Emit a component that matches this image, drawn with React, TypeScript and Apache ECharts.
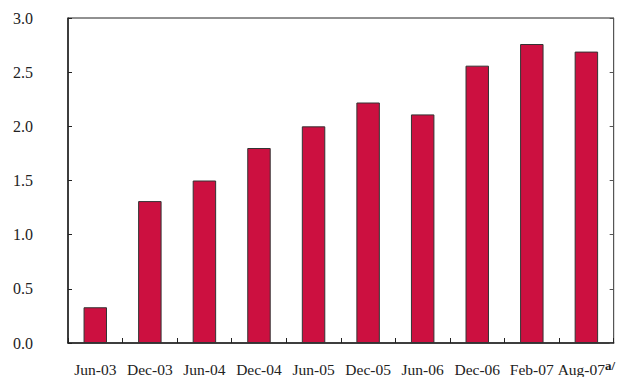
import React, { useEffect, useRef } from "react";
import * as echarts from "echarts";

const categories = ["Jun-03", "Dec-03", "Jun-04", "Dec-04", "Jun-05", "Dec-05", "Jun-06", "Dec-06", "Feb-07", "Aug-07"];
const values = [0.33, 1.31, 1.5, 1.8, 2.0, 2.22, 2.11, 2.56, 2.76, 2.69];
const yTicks = [0, 0.5, 1.0, 1.5, 2.0, 2.5, 3.0];
const footnoteCategory = "Aug-07";
const footnoteMark = "a/";

const FONT = "'Liberation Serif', 'Times New Roman', serif";

export default function App() {
  const ref = useRef<HTMLDivElement>(null);
  useEffect(() => {
    if (!ref.current) return;
    const chart = echarts.init(ref.current, undefined, { renderer: "svg" });
    chart.setOption({
      animation: false,
      backgroundColor: "#ffffff",
      grid: {
        left: 68,
        right: 2,
        top: 18,
        bottom: 30,
        show: true,
        borderColor: "#222",
        borderWidth: 1,
        backgroundColor: "transparent",
      },
      xAxis: {
        type: "category",
        data: categories,
        axisLine: { show: true, lineStyle: { color: "#222", width: 1.5 } },
        axisTick: { show: true, inside: true, length: 5, lineStyle: { color: "#222" } },
        axisLabel: {
          color: "#222",
          fontFamily: FONT,
          fontSize: 15.5,
          margin: 16,
          interval: 0,
          formatter: (v: string) => (v === footnoteCategory ? `{b|${v}}{sup|${footnoteMark}}` : `{b|${v}}`),
          rich: {
            b: { fontFamily: FONT, fontSize: 15.5, color: "#222", lineHeight: 18, verticalAlign: "bottom" },
            sup: { fontFamily: FONT, fontSize: 13, fontWeight: "bold", color: "#222", lineHeight: 18, verticalAlign: "top" },
          },
        },
      },
      yAxis: [
        {
          type: "value",
          min: 0,
          max: 3,
          interval: 0.5,
          axisLine: { show: true, lineStyle: { color: "#222", width: 1.5 } },
          axisTick: { show: true, inside: true, length: 4, lineStyle: { color: "#222" } },
          splitLine: { show: false },
          axisLabel: {
            color: "#222",
            fontFamily: FONT,
            fontSize: 16,
            margin: 35,
            align: "right",
            formatter: (v: number) => (yTicks.includes(v) ? v.toFixed(1) : ""),
          },
        },
        {
          type: "value",
          min: 0,
          max: 3,
          interval: 0.5,
          position: "right",
          axisLine: { show: true, lineStyle: { color: "#555", width: 1 } },
          axisTick: { show: true, inside: true, length: 4, lineStyle: { color: "#555" } },
          splitLine: { show: false },
          axisLabel: { show: false },
        },
      ],
      series: [
        {
          type: "bar",
          data: values,
          barWidth: "43%",
          itemStyle: { color: "#CC1040", borderColor: "#333", borderWidth: 1 },
        },
      ],
    });
    return () => chart.dispose();
  }, []);
  return <div ref={ref} style={{ width: 618, height: 377, position: "absolute", left: 0, top: 0 }} />;
}
